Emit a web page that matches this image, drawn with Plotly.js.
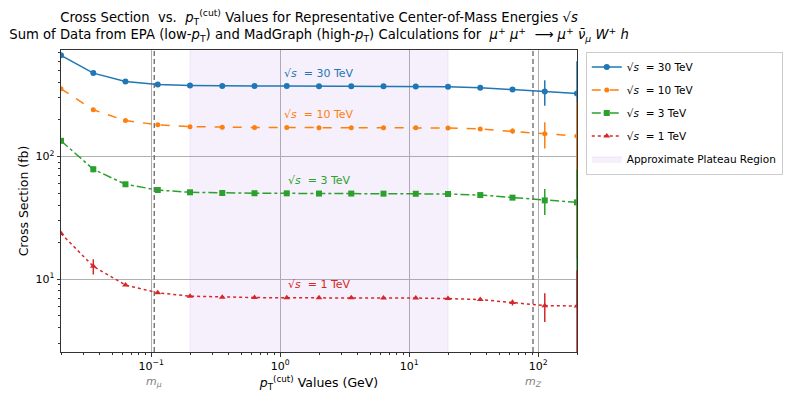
<!DOCTYPE html>
<html>
<head>
<meta charset="utf-8">
<script src="https://cdn.plot.ly/plotly-3.0.1.min.js"></script>
<style>
  html, body { margin: 0; padding: 0; background: #fff; }
  #chart { width: 789px; height: 398px; }
</style>
</head>
<body>
<div id="chart"></div>
<script>
/****************************************************************************************
* Data
****************************************************************************************/
// pT(cut) values in GeV
const ptCut = [0.02, 0.0356, 0.0632, 0.1125, 0.2, 0.3557, 0.6325, 1.125, 2, 3.557,
               6.325, 11.25, 20, 35.57, 63.25, 112.5, 200];

// cross sections in fb, one array per centre-of-mass energy
const xs30 = [668, 478, 408, 386, 379, 375, 375, 375, 374, 374, 373, 372, 370, 363, 352, 339, 326];
const err30 = [0, 0, 0, 0, 0, 0, 0, 0, 0, 0, 0, 0, 0, 0, 15, 80, 270];

const xs10 = [356, 240, 196, 181, 175, 173, 172, 172, 171.5, 171.5, 171.5, 171.5, 170.6, 167.5, 161, 153, 146.6];
const err10 = [0, 0, 0, 0, 0, 0, 0, 0, 0, 0, 0, 0, 0, 0, 8, 37, 132];

const xs3 = [134, 78.6, 59.3, 53.2, 51, 50.3, 50.1, 50, 49.8, 49.8, 49.7, 49.6, 49.4, 48.4, 46.1, 43.8, 42.2];
const err3 = [0, 4.5, 0, 0, 0, 0, 0, 0, 0, 0, 0, 0, 0, 0, 2, 10.5, 36];

const xs1 = [23.5, 12.7, 8.93, 7.72, 7.25, 7.11, 7.06, 7.03, 7.03, 7.03, 7.02, 7.0, 6.93, 6.8, 6.43, 6.07, 6.03];
const err1 = [0, 1.8, 0, 0, 0, 0, 0, 0, 0, 0, 0, 0, 0, 0, 0.35, 1.6, 5.7];

const energyLabels = ['30', '10', '3', '1'];
const plateauRange = [0.2, 20];      // GeV
const massMu = 0.10566;              // GeV
const massZ = 91.19;                 // GeV

/****************************************************************************************
* Styling
****************************************************************************************/
const colors = ['#1f77b4', '#ff7f0e', '#2ca02c', '#d62728'];
const dashes = ['solid', 'dash', 'dashdot', 'dot'];
const symbols = ['circle', 'circle', 'square', 'triangle-up'];
const markerSizes = [6, 5, 6, 6];
const FONT = 'DejaVu Sans, Liberation Sans, sans-serif';
const SQRT_S = '\u221A<i>s</i>';

const yRangeLog = [0.405, 2.868];

let makeSeries = (yVals, errs, idx) => {
    return {
        x: ptCut,
        y: yVals,
        type: 'scatter',
        mode: 'lines+markers',
        name: SQRT_S + '  = ' + energyLabels[idx] + ' TeV',
        legendgroup: 'g' + idx,
        legendrank: idx + 1,
        line: { color: colors[idx], width: 1.5, dash: dashes[idx] },
        marker: { color: colors[idx], size: markerSizes[idx], symbol: symbols[idx] },
        error_y: { type: 'data', array: errs, visible: true, color: colors[idx], thickness: 1.5, width: 0 }
    };
};

// plateau patch, drawn first so the curves sit on top of it
let plateauTrace = {
    x: [plateauRange[0], plateauRange[1], plateauRange[1], plateauRange[0], plateauRange[0]],
    y: [1, 1, 1000, 1000, 1],
    type: 'scatter',
    mode: 'lines',
    fill: 'toself',
    fillcolor: 'rgba(170,110,230,0.10)',
    line: { color: 'rgba(170,110,230,0.14)', width: 1 },
    name: 'Approximate Plateau Region',
    legendgroup: 'plateau',
    legendrank: 5,
    hoverinfo: 'skip'
};

let data = [
    plateauTrace,
    makeSeries(xs30, err30, 0),
    makeSeries(xs10, err10, 1),
    makeSeries(xs3, err3, 2),
    makeSeries(xs1, err1, 3)
];

// minor tick positions (2..9 of every decade)
let minorTicks = (lo, hi) => {
    let out = [];
    for (let e = lo; e <= hi; e++)
        for (let m = 2; m <= 9; m++)
            out.push(m * Math.pow(10, e));
    return out;
};

// in-plot labels of the four curves
let curveLabelY = [473, 219, 63.4, 9.04];
let annotations = curveLabelY.map((yv, i) => ({
    x: Math.log10(2), y: Math.log10(yv), xref: 'x', yref: 'y',
    text: SQRT_S + '  = ' + energyLabels[i] + ' TeV',
    showarrow: false,
    font: { family: FONT, size: 11, color: colors[i] }
}));
annotations.push(
    { x: Math.log10(massMu), y: -0.07, xref: 'x', yref: 'paper', yanchor: 'top', showarrow: false,
      text: '<i>m</i><sub><i>\u03BC</i></sub>', font: { family: FONT, size: 11, color: '#808080' } },
    { x: Math.log10(massZ), y: -0.07, xref: 'x', yref: 'paper', yanchor: 'top', showarrow: false,
      text: '<i>m</i><sub><i>Z</i></sub>', font: { family: FONT, size: 11, color: '#808080' } }
);

let shapes = [massMu, massZ].map(m => ({
    type: 'line', xref: 'x', yref: 'paper', x0: m, x1: m, y0: 0, y1: 1,
    line: { color: '#666666', width: 1.3, dash: '5px,3px' }
}));

let layout = {
    width: 789,
    height: 398,
    margin: { l: 61, r: 212, t: 50, b: 46, autoexpand: false },
    paper_bgcolor: '#ffffff',
    plot_bgcolor: '#ffffff',
    font: { family: FONT, size: 11, color: '#000' },
    title: {
        text: 'Cross Section  vs.  <i>p</i><sub>T</sub><sup>(cut)</sup> Values for Representative Center-of-Mass Energies ' + SQRT_S +
              '<br>Sum of Data from EPA (low-<i>p</i><sub>T</sub>) and MadGraph (high-<i>p</i><sub>T</sub>) Calculations for  ' +
              '<i>\u03BC</i><sup>+</sup> <i>\u03BC</i><sup>+</sup>  \u27F6 <i>\u03BC</i><sup>+</sup> <i>\u03BD\u0304</i><sub><i>\u03BC</i></sub> <i>W</i><sup>+</sup> <i>h</i>',
        font: { family: FONT, size: 13.2, color: '#000' },
        xref: 'paper', x: 0.5, xanchor: 'center',
        yref: 'container', y: 0.945, yanchor: 'top'
    },
    xaxis: {
        type: 'log',
        range: [Math.log10(0.02), Math.log10(200)],
        tickmode: 'array',
        tickvals: [0.1, 1, 10, 100],
        ticktext: ['10<sup>\u22121</sup>', '10<sup>0</sup>', '10<sup>1</sup>', '10<sup>2</sup>'],
        ticks: 'outside', ticklen: 3.5, tickcolor: '#333',
        minor: { tickmode: 'array', tickvals: minorTicks(-2, 2), ticks: 'outside', ticklen: 2, tickcolor: '#333', showgrid: false },
        showgrid: true, gridcolor: '#b0b0b0', gridwidth: 1,
        showline: true, linecolor: '#333', linewidth: 1, mirror: true,
        zeroline: false,
        title: { text: '<i>p</i><sub>T</sub><sup>(cut)</sup> Values (GeV)', font: { family: FONT, size: 12.5 }, standoff: 6 }
    },
    yaxis: {
        type: 'log',
        range: yRangeLog,
        tickmode: 'array',
        tickvals: [10, 100],
        ticktext: ['10<sup>1</sup>', '10<sup>2</sup>'],
        ticks: 'outside', ticklen: 3.5, tickcolor: '#333',
        minor: { tickmode: 'array', tickvals: minorTicks(0, 2), ticks: 'outside', ticklen: 2, tickcolor: '#333', showgrid: false },
        showgrid: true, gridcolor: '#b0b0b0', gridwidth: 1,
        showline: true, linecolor: '#333', linewidth: 1, mirror: true,
        zeroline: false,
        title: { text: 'Cross Section (fb)', font: { family: FONT, size: 12.5 }, standoff: 4 }
    },
    legend: {
        x: 1.017, y: 0.995, xanchor: 'left', yanchor: 'top',
        bgcolor: '#ffffff', bordercolor: '#cccccc', borderwidth: 1,
        font: { family: FONT, size: 10.5 },
        traceorder: 'grouped',
        tracegroupgap: 4
    },
    annotations: annotations,
    shapes: shapes
};

Plotly.newPlot('chart', data, layout, { staticPlot: true, displayModeBar: false });
</script>
</body>
</html>
